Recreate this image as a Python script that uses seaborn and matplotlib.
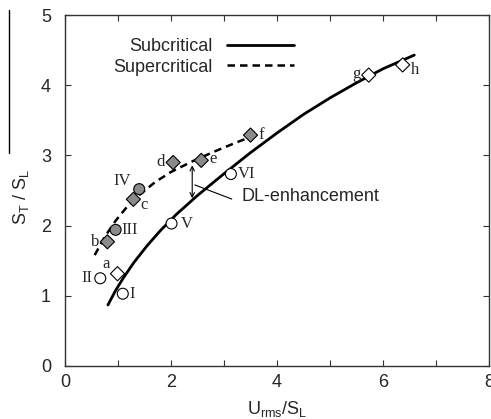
import matplotlib
matplotlib.use("Agg")
import matplotlib.pyplot as plt
from matplotlib.lines import Line2D
import seaborn as sns
import pandas as pd

# fitted curves
sub_x = [0.81, 0.95, 1.10, 1.30, 1.55, 1.80, 2.10, 2.50, 3.00, 3.50, 4.00, 4.50, 5.00, 5.50, 6.00, 6.59]
sub_y = [0.87, 1.07, 1.255, 1.475, 1.715, 1.93, 2.16, 2.43, 2.74, 3.04, 3.32, 3.585, 3.82, 4.035, 4.235, 4.43]
sup_x = [0.56, 0.75, 0.95, 1.15, 1.40, 1.70, 2.00, 2.40, 2.80, 3.20, 3.52]
sup_y = [1.58, 1.84, 2.065, 2.25, 2.435, 2.62, 2.765, 2.915, 3.05, 3.175, 3.27]

# cases: circles (I-VI) and diamonds (a-h)
circ_lab = ["I", "II", "III", "IV", "V", "VI"]
circ_x = [1.09, 0.665, 0.955, 1.40, 2.01, 3.13]
circ_y = [1.03, 1.25, 1.94, 2.52, 2.03, 2.735]
circ_grey = [False, False, True, True, False, False]
dia_lab = ["a", "b", "c", "d", "e", "f", "g", "h"]
dia_x = [0.99, 0.80, 1.29, 2.04, 2.57, 3.50, 5.73, 6.37]
dia_y = [1.315, 1.77, 2.375, 2.90, 2.93, 3.29, 4.145, 4.29]
dia_grey = [False, True, True, True, True, True, False, False]

# label offsets in points (dx, dy, ha)
circ_off = [(5, 0, "left"), (-6, 0, "right"), (4, 0, "left"), (-6, 6, "right"), (7, 0, "left"), (5, 0, "left")]
dia_off = [(-8, 7, "center"), (-6, 0, "right"), (8, -4, "center"), (-6, 0, "right"),
           (6, 1, "left"), (6, 0, "left"), (-6, 1, "right"), (6, -4, "left")]

sns.set_theme(style="ticks")
plt.rcParams['font.family'] = ['Liberation Sans', 'DejaVu Sans']
plt.rcParams['mathtext.default'] = 'regular'

fig = plt.figure(figsize=(4.91, 4.19), dpi=100)
ax = fig.add_axes([0.1324, 0.1265, 0.8636, 0.8375])

sub = pd.DataFrame({"x": sub_x, "y": sub_y})
sup = pd.DataFrame({"x": sup_x, "y": sup_y})
sns.lineplot(data=sub, x="x", y="y", ax=ax, color="black", lw=2.0,
             label="Subcritical", sort=False)
sns.lineplot(data=sup, x="x", y="y", ax=ax, color="black", lw=1.8,
             label="Supercritical", sort=False, linestyle=(0, (3, 2)))

grey = "#8a8a8a"
circ = pd.DataFrame({"x": circ_x, "y": circ_y, "g": circ_grey})
dia = pd.DataFrame({"x": dia_x, "y": dia_y, "g": dia_grey})
for df, mk, sz in [(circ, "o", 62), (dia, "D", 52)]:
    sns.scatterplot(data=df, x="x", y="y", hue="g", palette={True: grey, False: "white"},
                    marker=mk, s=sz, edgecolor="black", linewidth=0.8, ax=ax,
                    legend=False, zorder=3)

for labs, xs, ys, offs in [(circ_lab, circ_x, circ_y, circ_off), (dia_lab, dia_x, dia_y, dia_off)]:
    for t, x, y, (dx, dy, ha) in zip(labs, xs, ys, offs):
        ax.annotate(t, (x, y), xytext=(dx, dy), textcoords="offset points",
                    ha=ha, va="center", fontsize=12, family="Liberation Serif")

# DL-enhancement
ax.annotate("", xy=(2.40, 2.86), xytext=(2.40, 2.39),
            arrowprops=dict(arrowstyle="<->", lw=0.8, color="black",
                            shrinkA=0, shrinkB=0, mutation_scale=8))
ax.annotate("DL-enhancement", xy=(2.45, 2.58), xytext=(3.33, 2.41),
            ha="left", va="center", fontsize=13,
            arrowprops=dict(arrowstyle="-", lw=0.8, color="black",
                            relpos=(0, 0.15), shrinkA=5, shrinkB=0))

ax.set_xlim(0, 8)
ax.set_ylim(0, 5)
ax.set_xticks(range(0, 9))
ax.set_xticklabels([str(v) if v % 2 == 0 else "" for v in range(0, 9)])
ax.set_yticks(range(0, 6))
ax.tick_params(direction="in", length=4, width=0.8, top=True, right=True,
               labelsize=13, color="#333333")
ax.tick_params(axis="x", pad=6)
ax.tick_params(axis="y", pad=10)
for s in ax.spines.values():
    s.set_color("#333333")
    s.set_linewidth(1.0)

ax.set_xlabel("U$_{rms}$/S$_L$", fontsize=13)
ax.set_ylabel("S$_T$ / S$_L$", fontsize=13)
ax.xaxis.set_label_coords(0.5, -0.094)
ax.yaxis.set_label_coords(-0.080, 0.483)

ax.legend(loc="upper right", bbox_to_anchor=(0.54, 0.935), frameon=False,
          markerfirst=False, fontsize=13, handlelength=3.7, handletextpad=0.8,
          labelspacing=0.2, borderpad=0, borderaxespad=0)

# stray vertical rule at far left of the original
fig.add_artist(Line2D([0.0183, 0.0183], [0.976, 0.635], color="black", lw=1.0))

fig.savefig("out.png", dpi=100)
